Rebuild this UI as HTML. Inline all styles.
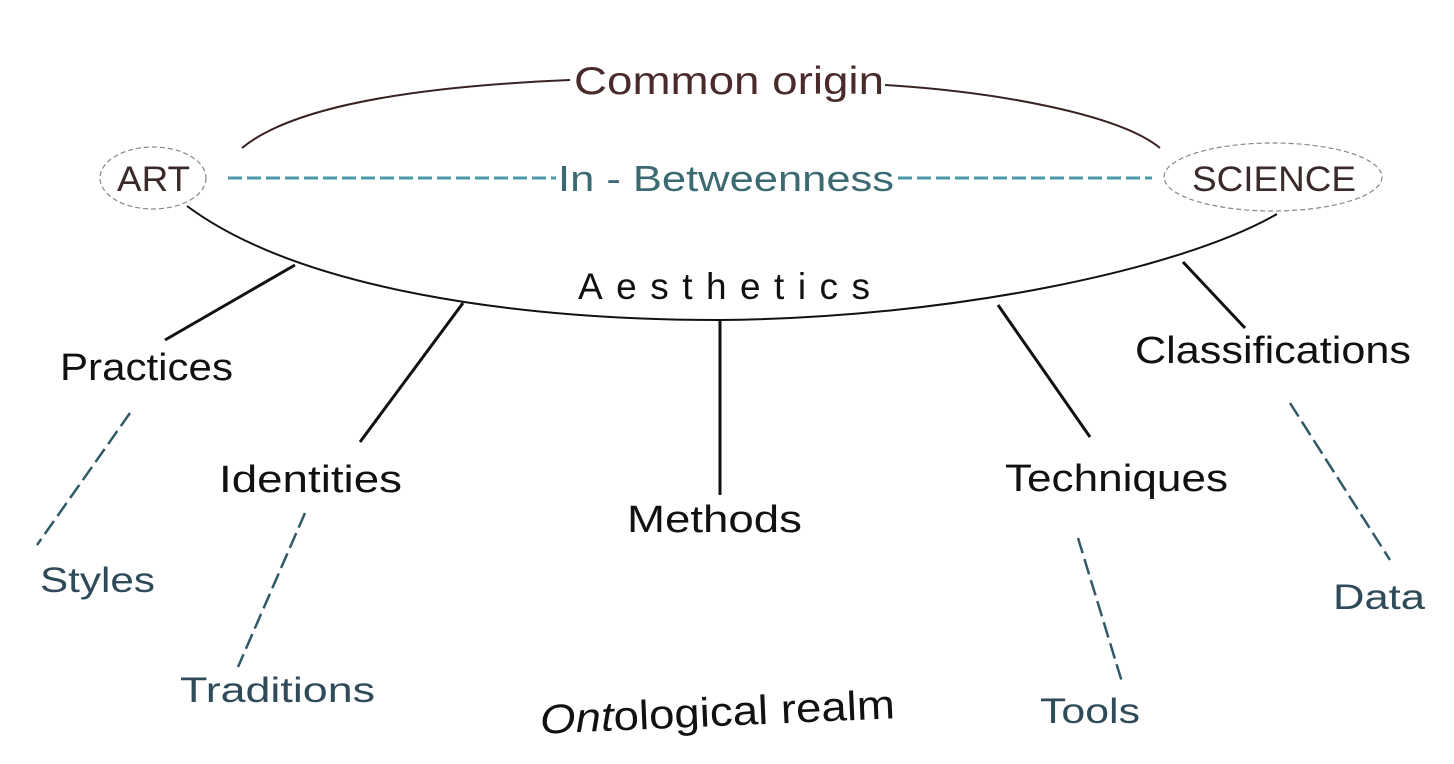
<!DOCTYPE html>
<html><head><meta charset="utf-8"><style>
html,body{margin:0;padding:0;background:#fff;}
svg{display:block;}
text{font-family:"Liberation Sans",sans-serif;}
</style></head><body>
<svg width="1454" height="764" viewBox="0 0 1454 764" xmlns="http://www.w3.org/2000/svg">
<rect width="1454" height="764" fill="#fff"/>
<path d="M242,148 C300,100 450,85 570,80" fill="none" stroke="#3a2222" stroke-width="2"/>
<path d="M885,85 C1000,92 1120,115 1160,148" fill="none" stroke="#3a2222" stroke-width="2"/>
<text x="574" y="94" font-size="39" fill="#4a2b2b" textLength="310" lengthAdjust="spacingAndGlyphs">Common origin</text>
<ellipse cx="153" cy="178" rx="53" ry="31" fill="none" stroke="#888" stroke-width="1.2" stroke-dasharray="5,3"/>
<text x="117" y="191" font-size="35" fill="#3b2a2a" textLength="73" lengthAdjust="spacingAndGlyphs">ART</text>
<ellipse cx="1273" cy="177" rx="109" ry="34" fill="none" stroke="#888" stroke-width="1.2" stroke-dasharray="5,3"/>
<text x="1192" y="191" font-size="35" fill="#3b2a2a" textLength="164" lengthAdjust="spacingAndGlyphs">SCIENCE</text>
<line x1="228" y1="178" x2="556" y2="178" stroke="#4a9aa8" stroke-width="3" stroke-dasharray="14,5"/>
<line x1="898" y1="178" x2="1152" y2="178" stroke="#4a9aa8" stroke-width="3" stroke-dasharray="14,5"/>
<text x="558" y="191" font-size="36" fill="#3b6a72" textLength="336" lengthAdjust="spacingAndGlyphs">In - Betweenness</text>
<path d="M187,206 C300,290 520,320 720,320 C950,318 1180,270 1277,214" fill="none" stroke="#111" stroke-width="2"/>
<text x="578" y="299" font-size="37" fill="#111" textLength="292" lengthAdjust="spacing">Aesthetics</text>
<g stroke="#111" stroke-width="3" fill="none">
<line x1="295" y1="265" x2="165" y2="340"/>
<line x1="463" y1="303" x2="360" y2="442"/>
<line x1="720" y1="320" x2="720" y2="495"/>
<line x1="998" y1="305" x2="1090" y2="437"/>
<line x1="1183" y1="262" x2="1245" y2="328"/>
</g>
<g stroke="#2f5a66" stroke-width="2.5" stroke-dasharray="16,6" fill="none">
<line x1="130" y1="413" x2="37" y2="545"/>
<line x1="305" y1="513" x2="238" y2="667"/>
<line x1="1078" y1="538" x2="1122" y2="682"/>
<line x1="1290" y1="403" x2="1390" y2="560"/>
</g>
<g font-size="38" fill="#111">
<text x="60" y="380" textLength="173" lengthAdjust="spacingAndGlyphs">Practices</text>
<text x="219" y="492" textLength="183" lengthAdjust="spacingAndGlyphs">Identities</text>
<text x="627" y="532" textLength="175" lengthAdjust="spacingAndGlyphs">Methods</text>
<text x="1005" y="491" textLength="223" lengthAdjust="spacingAndGlyphs">Techniques</text>
<text x="1135" y="363" textLength="276" lengthAdjust="spacingAndGlyphs">Classifications</text>
</g>
<g font-size="35" fill="#2f4a58">
<text x="40" y="592" textLength="115" lengthAdjust="spacingAndGlyphs">Styles</text>
<text x="180" y="702" textLength="195" lengthAdjust="spacingAndGlyphs">Traditions</text>
<text x="1040" y="723" textLength="100" lengthAdjust="spacingAndGlyphs">Tools</text>
<text x="1333" y="609" textLength="92" lengthAdjust="spacingAndGlyphs">Data</text>
</g>
<text x="540" y="726" font-size="41" fill="#111" textLength="355" lengthAdjust="spacingAndGlyphs" transform="rotate(-2.5 717 715)"><tspan font-style="italic">Ont</tspan>ological realm</text>
</svg>
</body></html>
